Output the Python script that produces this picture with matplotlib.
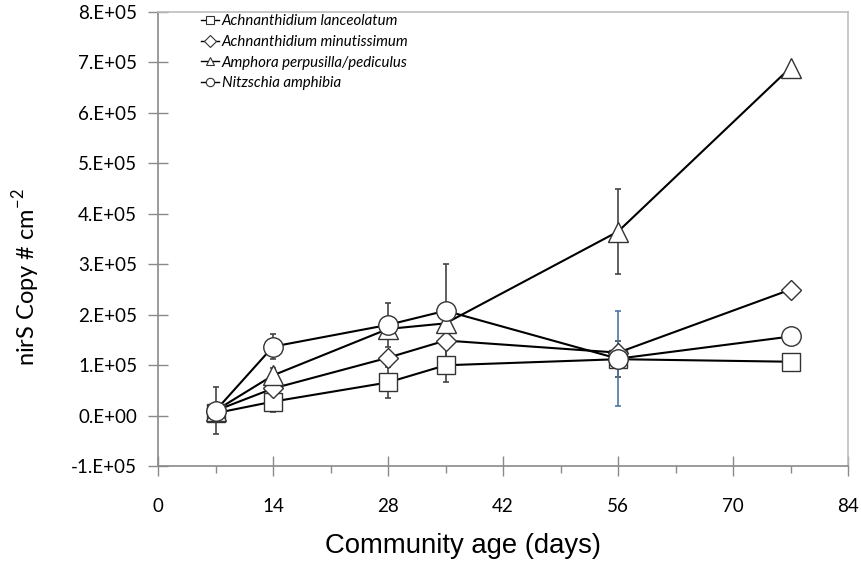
import matplotlib
matplotlib.use("Agg")
import matplotlib.pyplot as plt
from matplotlib.ticker import FuncFormatter, MultipleLocator

days = [7, 14, 28, 35, 56, 77]

lanceolatum = [5e3, 2.8e4, 6.6e4, 1.0e5, 1.12e5, 1.07e5]
lanceolatum_err = [1.0e4, 2.0e4, 3.0e4, 3.4e4, 3.6e4, 0]

minutissimum = [1.0e4, 5.4e4, 1.15e5, 1.49e5, 1.25e5, 2.5e5]
minutissimum_err = [1.0e4, 1.0e4, 1.0e4, 1.0e4, 1.0e4, 0]

perpusilla = [1.0e4, 8.0e4, 1.72e5, 1.83e5, 3.65e5, 6.9e5]
perpusilla_err = [1.5e4, 1.5e4, 1.5e4, 1.5e4, 8.5e4, 0]

amphibia = [1.0e4, 1.37e5, 1.8e5, 2.08e5, 1.13e5, 1.57e5]
amphibia_err = [4.6e4, 2.4e4, 4.4e4, 9.3e4, 9.4e4, 0]

labels = ["Achnanthidium lanceolatum", "Achnanthidium minutissimum",
          "Amphora perpusilla/pediculus", "Nitzschia amphibia"]
markers = ["s", "D", "^", "o"]
sizes = [13, 10, 14, 14]
yticks = [-1e5, 0, 1e5, 2e5, 3e5, 4e5, 5e5, 6e5, 7e5, 8e5]
xticks = [0, 14, 28, 42, 56, 70, 84]

fig = plt.figure(figsize=(8.61, 5.61), dpi=100)
ax = fig.add_axes([0.1835, 0.169, 0.8015, 0.8096])

series = [(lanceolatum, lanceolatum_err), (minutissimum, minutissimum_err),
          (perpusilla, perpusilla_err), (amphibia, amphibia_err)]

for i, ((vals, errs), lab, mk, ms) in enumerate(zip(series, labels, markers, sizes)):
    # error bars (drawn under markers)
    for d, v, e in zip(days, vals, errs):
        if e > 0:
            col = "#4a78a8" if (lab == "Nitzschia amphibia" and d == 56) else "#444444"
            ax.errorbar([d], [v], yerr=[e], fmt="none", ecolor=col, elinewidth=1.2,
                        capsize=2, capthick=1.2, zorder=2)
    ax.plot(days, vals, color="black", lw=1.5, zorder=3)
    ax.plot(days, vals, linestyle="none", marker=mk, markersize=ms,
            markerfacecolor="white", markeredgecolor="#333333", markeredgewidth=1.0,
            zorder=4 + i)
    # legend proxy
    ax.plot([], [], color="black", lw=1.0, marker=mk, markersize=6,
            markerfacecolor="white", markeredgecolor="#333333", markeredgewidth=0.8,
            label=lab)

ax.set_xlim(0, 84)
ax.set_ylim(-1e5, 8e5)
ax.set_xticks(xticks)
ax.xaxis.set_minor_locator(MultipleLocator(7))
ax.set_yticks(yticks)

def sci(v, pos):
    if v == 0:
        return "0.E+00"
    s = "-" if v < 0 else ""
    m = abs(v)
    e = 0
    while m >= 10:
        m /= 10
        e += 1
    return f"{s}{int(round(m))}.E+{e:02d}"

ax.yaxis.set_major_formatter(FuncFormatter(sci))

for side in ["top", "right"]:
    ax.spines[side].set_color("#bdbdbd")
    ax.spines[side].set_linewidth(1.2)
for side in ["left", "bottom"]:
    ax.spines[side].set_color("#8a8a8a")
    ax.spines[side].set_linewidth(1.2)

ax.tick_params(axis="both", which="major", direction="inout", length=14, width=1.0,
               color="#8a8a8a", labelsize=13.5)
ax.tick_params(axis="x", which="minor", direction="out", length=5, width=1.0,
               color="#8a8a8a")
ax.tick_params(axis="y", which="major", pad=8)
ax.tick_params(axis="x", which="major", pad=16)
for t in ax.get_xticklabels() + ax.get_yticklabels():
    t.set_family("Lato")

ax.set_xlabel("Community age (days)", fontsize=19.8, family="Liberation Sans")
ax.xaxis.set_label_coords(0.442, -0.1476)
ax.set_ylabel("nirS Copy # cm$^{\\mathregular{-2}}$", fontsize=17, family="Lato")
ax.yaxis.set_label_coords(-0.168, 0.416)

leg = ax.legend(loc="upper left", bbox_to_anchor=(0.05, 1.015), frameon=False,
                prop={"family": "Lato", "style": "italic", "size": 10.8},
                handlelength=1.2, handletextpad=0.15, labelspacing=0.45,
                borderaxespad=0.2)

fig.savefig("out.png", dpi=100)
